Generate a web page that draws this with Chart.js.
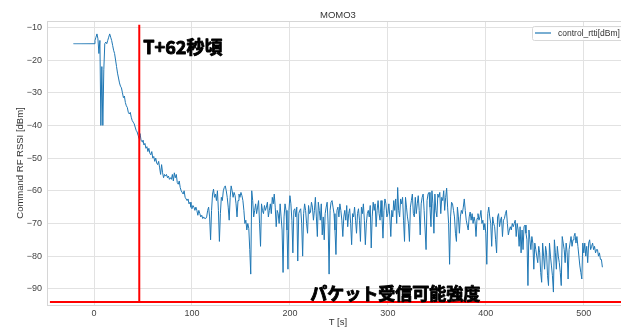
<!DOCTYPE html>
<html>
<head>
<meta charset="utf-8">
<script src="https://cdn.jsdelivr.net/npm/chart.js@4.4.1/dist/chart.umd.min.js"></script>
<style>
  html, body { margin: 0; padding: 0; background: #ffffff; }
  #wrap { position: relative; width: 621px; height: 327px; }
</style>
</head>
<body>
<div id="wrap"><canvas id="c" width="621" height="327"></canvas></div>
<script>
// MOMO3 uplink command RSSI, one sample per second starting at T = -21 s
const chartTitle = 'MOMO3';
const seriesLabel = 'control_rtti[dBm]';
const xAxisLabel = 'T [s]';
const yAxisLabel = 'Command RF RSSI [dBm]';
const firstSampleS = -21;

const rssiDbm = [
  // -21 .. 0
  -15, -15, -15, -15, -15, -15, -15, -15, -15, -15, -15, -15, -15, -15, -15, -15, -15, -15, -15, -15, -15, -15,
  // 1 .. 20
  -14, -13, -12, -13.5, -18, -14, -40, -22, -40, -23, -15, -14.5, -15, -14, -13, -12, -13, -14, -15.5, -17,
  // 21 .. 40
  -18, -20, -22, -24, -25.5, -27, -28, -28.5, -30, -31.5, -31, -33, -34, -34.5, -36, -36.5, -36, -37.5, -38.5, -39,
  // 41 .. 60
  -39.5, -40.5, -41.5, -42, -43, -44, -42.5, -44.5, -45, -44.5, -46, -45.5, -47, -46.5, -48, -47, -48.5, -49, -48, -50,
  // 61 .. 80
  -49.5, -51, -50, -51.5, -52, -51, -53, -55, -52, -54.5, -56, -55, -55.5, -55, -56, -55.5, -56.5, -56, -56.5, -55,
  // 81 .. 100
  -57, -54.5, -56, -55, -57.5, -58, -57, -59, -60, -60.5, -61, -60, -62, -62.5, -63, -62.5, -64, -63.5, -65, -65.5,
  // 101 .. 120
  -64.5, -65, -66, -65, -66, -67.5, -66, -67, -68, -67.5, -68.5, -68, -68.5, -68.5, -68, -66, -65, -68, -75, -66,
  // 121 .. 140
  -61, -59.5, -62, -61, -63, -60, -66, -75.5, -67, -62, -63, -60, -59, -58.5, -60, -62, -65, -69, -62, -58.5,
  // 141 .. 160
  -60, -62, -60.5, -61.5, -64, -68, -63, -61, -62, -60.5, -61.5, -63, -66, -70, -69, -72, -70, -71.5, -78, -85.5,
  // 161 .. 180
  -60, -63, -68, -66, -64, -67, -65, -63, -70, -77, -64, -66, -67, -64.5, -66, -65, -63.5, -68, -66, -64,
  // 181 .. 200
  -67, -62, -64, -61, -65, -71, -66, -67, -70, -64, -68, -72, -85, -68, -64, -66, -72, -84, -66, -61.5,
  // 201 .. 220
  -64, -69, -79, -66, -65.5, -68, -65, -81.5, -67, -66, -65.5, -70, -80, -67, -64, -66, -70, -73, -64.5, -67,
  // 221 .. 240
  -66.5, -63.5, -65, -69, -66, -62, -68, -74, -63.5, -66, -69, -64, -73.5, -68, -75, -67, -65, -63.5, -70, -85.5,
  // 241 .. 260
  -66, -63.5, -63, -65, -67, -72, -79.5, -66, -65, -68, -64, -66, -69, -74, -68, -66, -69, -64.5, -71, -67,
  // 261 .. 280
  -65.5, -70, -76.5, -67, -68, -65, -69, -73, -67, -65.5, -69, -75.5, -65, -67, -64, -69, -76.5, -70, -67, -66,
  // 281 .. 300
  -68, -64.5, -77.5, -68, -63.5, -66, -64, -71, -66, -63, -67, -69, -63, -68, -74.5, -66, -62.5, -64, -68, -67,
  // 301 .. 320
  -64, -68, -74, -66, -68, -63, -66, -62.5, -70, -59, -66, -68, -62.5, -64, -62, -69, -75.5, -62, -65, -68,
  // 321 .. 340
  -70, -75.5, -65, -63, -61, -67, -68, -62, -67, -64, -61.5, -66, -73.5, -64, -62, -61, -66, -72, -78, -63,
  // 341 .. 360
  -61, -60.5, -65, -71, -60, -64, -73, -61, -66, -68, -61, -62, -60.5, -67, -62, -63, -60, -66, -62, -59.2,
  // 361 .. 380
  -65, -70, -82.5, -68, -63.5, -64, -66, -68, -73, -75.5, -65, -68, -73, -68, -66, -67, -65, -62.5, -66, -69,
  // 381 .. 400
  -70.5, -72, -68, -66.5, -69, -67, -70, -68, -69.5, -74, -68.5, -67, -69, -68, -66, -70, -69, -72, -70, -73,
  // 401 .. 420
  -82.5, -67, -65, -68, -70, -77, -68, -70, -71, -75, -79, -68, -67, -71, -69, -68, -74, -69, -68.5, -67,
  // 421 .. 440
  -66, -70, -73.5, -72, -71, -72, -70, -71, -70, -69, -74, -70, -72, -77, -71, -79, -72, -78, -71, -70.5,
  // 441 .. 460
  -73, -75, -89, -72, -75, -78, -74, -76, -84, -76, -78, -80, -82, -77, -79, -85, -88, -76, -80, -84,
  // 461 .. 480
  -77, -79, -86, -89, -76, -80, -83, -86, -91, -75, -79, -84, -77, -80, -82, -85, -89, -74, -76, -78,
  // 481 .. 500
  -82, -76, -79, -87, -78, -76, -74, -77, -75, -74, -73, -76, -74, -77, -80, -83, -85, -87, -76, -79,
  // 501 .. 519
  -76, -80, -77, -82, -76, -75, -78, -77, -76, -78, -77, -79, -78, -78, -80, -79, -81, -81, -83.4
];

// Reference marks
const markerTimeS = [46.2, 46.2];
const markerSpanDbm = [-94, -9.2];
const thresholdTimeS = [-45, 560];
const thresholdDbm = [-94, -94];
const markerText = 'T+62秒頃';
const thresholdText = 'パケット受信可能強度';

// Tick labels
const xTicks = [0, 100, 200, 300, 400, 500];
const yTicks = [-10, -20, -30, -40, -50, -60, -70, -80, -90];

const rssiPoints = rssiDbm.map((v, i) => ({ x: firstSampleS + i, y: v }));
const markerPoints = markerTimeS.map((t, i) => ({ x: t, y: markerSpanDbm[i] }));
const thresholdPoints = thresholdTimeS.map((t, i) => ({ x: t, y: thresholdDbm[i] }));

const LINE_BLUE = '#1f77b4';
const TEXT = '#333333';
const TICK_TEXT = '#444444';
const GRID = '#e2e2e2';
const SANS = '"Liberation Sans", Arial, sans-serif';
const JP = '"Noto Sans CJK JP", sans-serif';

// full axes span in seconds (part of it lies past the right canvas edge)
const axesSpanS = [-48, 546];

// heavy label: filled and lightly outlined so the strokes read extra bold
function heavyText(ctx, text, px, py) {
  ctx.lineJoin = 'round';
  ctx.lineWidth = 0.9;
  ctx.strokeStyle = '#000000';
  ctx.strokeText(text, px, py);
  ctx.fillText(text, px, py);
}

const overlay = {
  id: 'overlay',
  beforeDatasetsDraw(chart) {
    const { ctx, chartArea: a } = chart;
    ctx.save();
    ctx.strokeStyle = '#d6d6d6';
    ctx.lineWidth = 1;
    ctx.strokeRect(a.left + 0.5, a.top + 0.5, a.right - a.left, a.bottom - a.top);
    ctx.restore();
  },
  afterDraw(chart) {
    const { ctx, chartArea: a, scales: { x, y } } = chart;
    ctx.save();
    // title and axis titles, centred on the full axes span
    const midX = x.getPixelForValue((axesSpanS[0] + axesSpanS[1]) / 2);
    ctx.fillStyle = TEXT;
    ctx.font = '9.5px ' + SANS;
    ctx.textAlign = 'center';
    ctx.textBaseline = 'middle';
    ctx.fillText(chartTitle, midX, 15);
    ctx.fillText(xAxisLabel, midX, 322.5);
    ctx.save();
    ctx.translate(20, (a.top + a.bottom) / 2);
    ctx.rotate(-Math.PI / 2);
    ctx.fillText(yAxisLabel, 0, 0);
    ctx.restore();

    // annotation texts
    ctx.fillStyle = '#000000';
    ctx.font = 'bold 18px ' + JP;
    ctx.textAlign = 'left';
    ctx.textBaseline = 'middle';
    heavyText(ctx, markerText, x.getPixelForValue(50.3), y.getPixelForValue(-16.2));
    ctx.font = 'bold 17px ' + JP;
    heavyText(ctx, thresholdText, x.getPixelForValue(220.7), y.getPixelForValue(-91.3));

    // legend
    const lx = 532, ly = 26;
    ctx.beginPath();
    ctx.roundRect(lx + 0.5, ly + 0.5, 110, 14, 2);
    ctx.fillStyle = 'rgba(255,255,255,0.85)';
    ctx.fill();
    ctx.strokeStyle = '#d8d8d8';
    ctx.lineWidth = 1;
    ctx.stroke();
    ctx.beginPath();
    ctx.moveTo(lx + 3, ly + 7);
    ctx.lineTo(lx + 19, ly + 7);
    ctx.strokeStyle = LINE_BLUE;
    ctx.lineWidth = 1.2;
    ctx.stroke();
    ctx.fillStyle = TEXT;
    ctx.font = '8.5px ' + SANS;
    ctx.textAlign = 'left';
    ctx.textBaseline = 'middle';
    ctx.fillText(seriesLabel, lx + 26, ly + 7.5);
    ctx.restore();
  }
};

const minus = v => String(v).replace('-', '\u2212');

new Chart(document.getElementById('c'), {
  type: 'line',
  data: {
    datasets: [
      {
        label: 'threshold',
        data: thresholdPoints,
        borderColor: '#ff0000',
        borderWidth: 2,
        pointRadius: 0,
        order: 0
      },
      {
        label: 'marker',
        data: markerPoints,
        borderColor: '#ff0000',
        borderWidth: 2,
        pointRadius: 0,
        order: 0
      },
      {
        label: seriesLabel,
        data: rssiPoints,
        borderColor: LINE_BLUE,
        borderWidth: 1,
        pointRadius: 0,
        tension: 0,
        order: 1
      }
    ]
  },
  options: {
    responsive: false,
    animation: false,
    devicePixelRatio: 1,
    layout: { padding: { top: 21, right: 0, left: 0, bottom: 0 } },
    plugins: {
      legend: { display: false },
      title: { display: false },
      tooltip: { enabled: false }
    },
    scales: {
      x: {
        type: 'linear',
        min: -48,
        max: 538,
        afterFit(s) { s.height = 22; },
        afterBuildTicks(s) { s.ticks = xTicks.map(v => ({ value: v })); },
        ticks: { color: TICK_TEXT, font: { family: SANS, size: 9 }, padding: 3, callback: minus, maxRotation: 0 },
        grid: { color: GRID, drawTicks: false, lineWidth: 1 },
        border: { display: false }
      },
      y: {
        type: 'linear',
        min: -94.95,
        max: -8.05,
        afterFit(s) { s.width = 47; },
        afterBuildTicks(s) { s.ticks = yTicks.map(v => ({ value: v })); },
        ticks: { color: TICK_TEXT, font: { family: SANS, size: 9 }, padding: 5, callback: minus },
        grid: { color: GRID, drawTicks: false, lineWidth: 1 },
        border: { display: false }
      }
    }
  },
  plugins: [overlay]
});
</script>
</body>
</html>
